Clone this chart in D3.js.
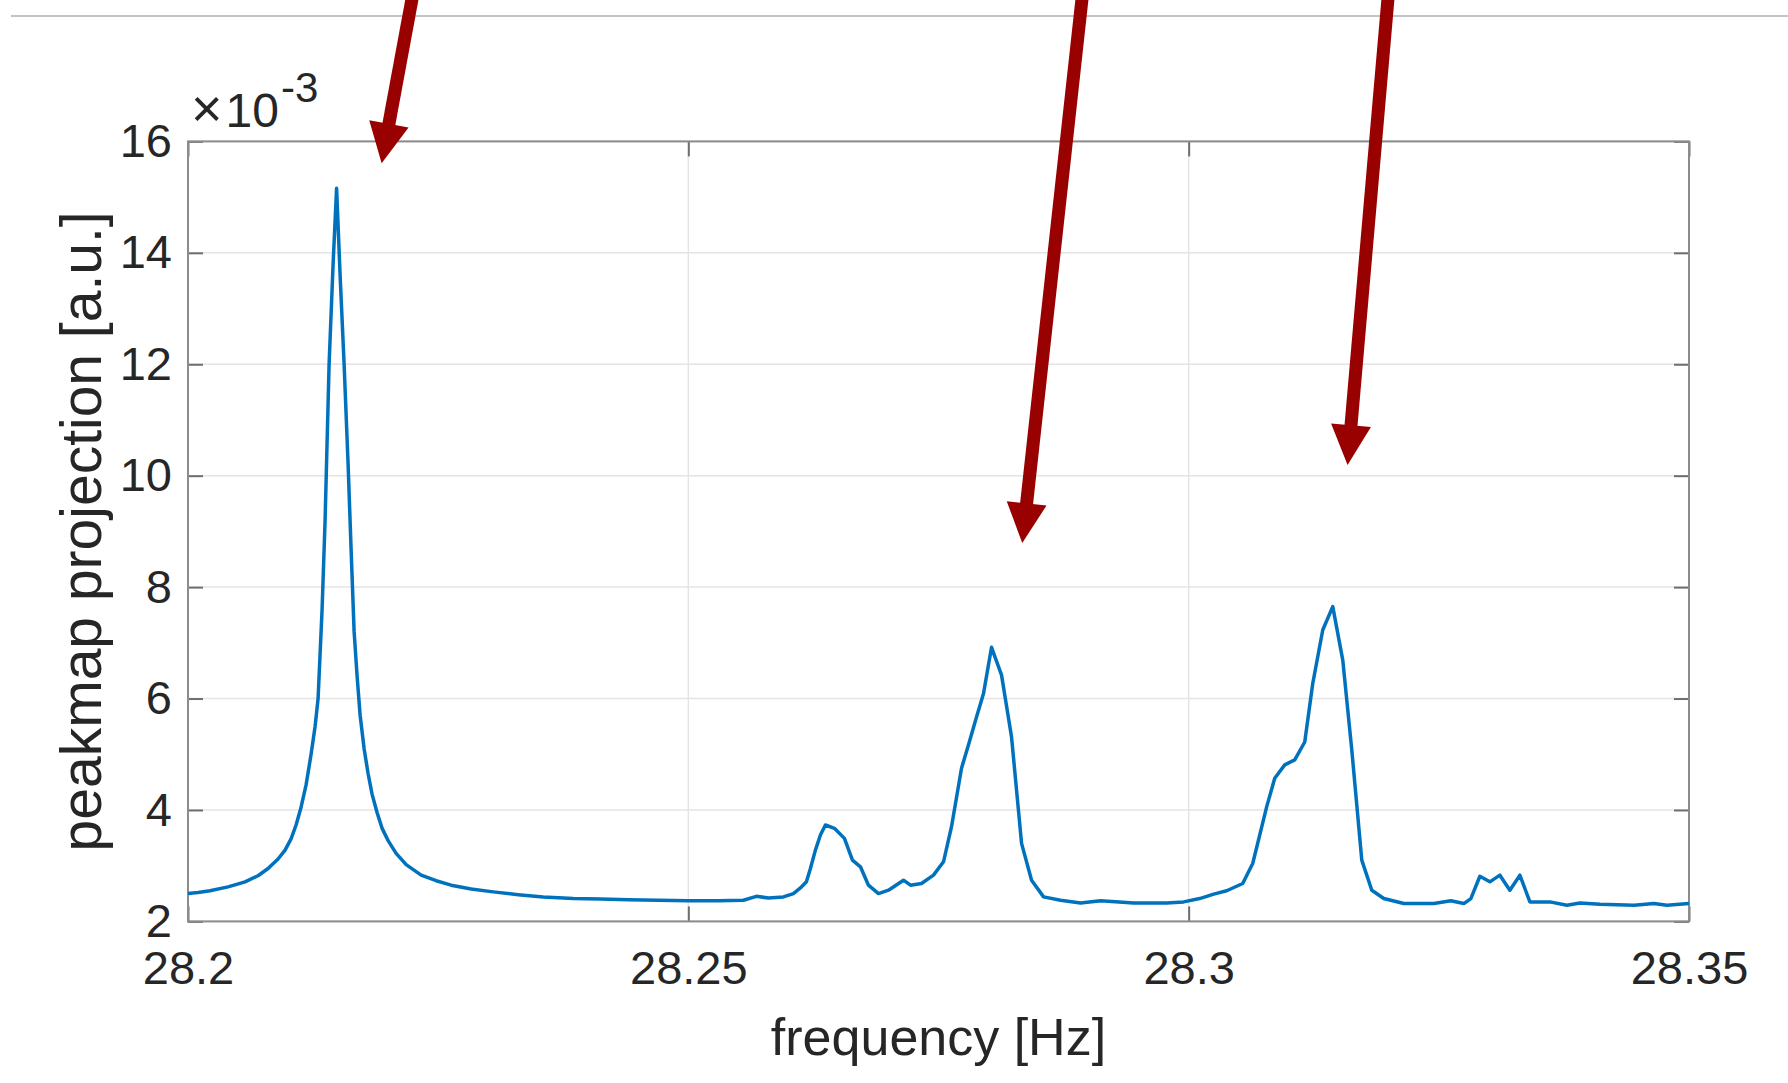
<!DOCTYPE html>
<html>
<head>
<meta charset="utf-8">
<script src="https://cdn.jsdelivr.net/npm/d3@7"></script>
<style>
  html, body { margin: 0; padding: 0; background: #fff; }
  svg { display: block; font-family: "Liberation Sans", Arial, Helvetica, sans-serif; }
</style>
</head>
<body>
<div id="chart"></div>
<script>
// spectrum, power in units of 1e-3
var freq = [
  28.2000, 28.2010, 28.2022, 28.2040, 28.2057, 28.2070, 28.2080, 28.2090, 28.2097, 28.2103,
  28.2108, 28.2113, 28.2118, 28.2123, 28.2127, 28.2130, 28.2134, 28.2137, 28.2141, 28.2145,
  28.21485, 28.2152, 28.2156, 28.2160, 28.2163, 28.2166, 28.2169, 28.2172, 28.2176, 28.2180,
  28.2184, 28.2189, 28.2194, 28.2200, 28.2208, 28.2218, 28.2233, 28.2248, 28.2263, 28.2283,
  28.2305, 28.2330, 28.2355, 28.2385, 28.2412, 28.2440, 28.2470, 28.2500, 28.2530, 28.2555,
  28.2568, 28.2580, 28.2595, 28.2605, 28.2612, 28.2618, 28.2622, 28.2627, 28.2632, 28.2637,
  28.2646, 28.2656, 28.2664, 28.2672, 28.2680, 28.2690, 28.2700, 28.2715, 28.2722, 28.2733,
  28.2745, 28.2755, 28.2763, 28.2773, 28.2780, 28.2788, 28.2795, 28.2803, 28.2813, 28.2823,
  28.2833, 28.2843, 28.2855, 28.2872, 28.2892, 28.2912, 28.2945, 28.2978, 28.2995, 28.3011,
  28.3025, 28.3038, 28.3054, 28.3064, 28.3078, 28.3086, 28.3096, 28.3106, 28.3116, 28.3124,
  28.3134, 28.3144, 28.3154, 28.3163, 28.3173, 28.3183, 28.3195, 28.3215, 28.3245, 28.3262,
  28.3275, 28.3282, 28.3291, 28.3301, 28.3311, 28.3321, 28.3331, 28.3341, 28.3361, 28.3378,
  28.3391, 28.3411, 28.3445, 28.3465, 28.3478, 28.3500
];
var power = [
  2.50, 2.52, 2.55, 2.62, 2.71, 2.82, 2.95, 3.12, 3.28, 3.48,
  3.73, 4.05, 4.45, 5.00, 5.50, 6.00, 7.60, 9.20, 12.0, 13.8,
  15.16, 13.6, 12.0, 10.2, 8.67, 7.20, 6.40, 5.70, 5.10, 4.65,
  4.28, 3.95, 3.67, 3.45, 3.22, 3.02, 2.83, 2.73, 2.65, 2.58,
  2.53, 2.48, 2.44, 2.41, 2.40, 2.39, 2.38, 2.37, 2.37, 2.38,
  2.45, 2.42, 2.44, 2.50, 2.60, 2.71, 2.95, 3.28, 3.55, 3.73,
  3.67, 3.49, 3.10, 2.98, 2.65, 2.50, 2.56, 2.74, 2.65, 2.68,
  2.83, 3.07, 3.70, 4.75, 5.17, 5.67, 6.09, 6.92, 6.42, 5.31,
  3.40, 2.74, 2.44, 2.38, 2.33, 2.37, 2.33, 2.33, 2.35, 2.41,
  2.49, 2.55, 2.68, 3.04, 4.06, 4.57, 4.81, 4.90, 5.22, 6.27,
  7.23, 7.65, 6.69, 5.08, 3.10, 2.56, 2.41, 2.32, 2.32, 2.37,
  2.32, 2.41, 2.81, 2.71, 2.83, 2.56, 2.83, 2.35, 2.35, 2.29,
  2.33, 2.31, 2.29, 2.32, 2.29, 2.32
];

var xTicks = [28.2, 28.25, 28.3, 28.35];
var xTickLabels = ["28.2", "28.25", "28.3", "28.35"];
var yTicks = [2, 4, 6, 8, 10, 12, 14, 16];
var yTickLabels = ["2", "4", "6", "8", "10", "12", "14", "16"];

// arrow annotations: top end and tip, in data units
var arrowTop = [[28.22274, 18.9], [28.28955, 18.9], [28.32008, 18.9]];
var arrowTip = [[28.21935, 15.61], [28.28337, 8.79], [28.31588, 10.19]];

var width = 1788, height = 1083;
var plotLeft = 188, plotRight = 1689, plotTop = 141.4, plotBottom = 921.4;

var svg = d3.select('#chart').append('svg')
  .attr('width', width)
  .attr('height', height);

var x = d3.scaleLinear().domain([28.2, 28.35]).range([plotLeft, plotRight]);
var y = d3.scaleLinear().domain([2, 16]).range([plotBottom, plotTop]);

// thin rule across the top of the figure
svg.append('line')
  .attr('x1', 11).attr('x2', width)
  .attr('y1', 16).attr('y2', 16)
  .attr('stroke', '#c4c4c4')
  .attr('stroke-width', 2);

// grid
svg.append('g').selectAll('line').data(xTicks).enter().append('line')
  .attr('x1', function(d){ return x(d); })
  .attr('x2', function(d){ return x(d); })
  .attr('y1', plotTop).attr('y2', plotBottom)
  .attr('stroke', '#e4e4e4')
  .attr('stroke-width', 1.5);

svg.append('g').selectAll('line').data(yTicks).enter().append('line')
  .attr('x1', plotLeft).attr('x2', plotRight)
  .attr('y1', function(d){ return y(d); })
  .attr('y2', function(d){ return y(d); })
  .attr('stroke', '#e4e4e4')
  .attr('stroke-width', 1.5);

// axes, ticks pointing inward
var fmtX = function(d){ return xTickLabels[xTicks.indexOf(d)]; };
var fmtY = function(d){ return yTickLabels[yTicks.indexOf(d)]; };

var styleAxis = function(g){
  g.select('.domain').remove();
  g.selectAll('.tick line').attr('stroke', '#6e6e6e').attr('stroke-width', 2);
  g.selectAll('.tick text')
    .attr('fill', '#262626')
    .style('font-size', '47px')
    .style('font-family', '"Liberation Sans", Arial, Helvetica, sans-serif');
};

svg.append('g')
  .attr('transform', 'translate(0,' + plotBottom + ')')
  .call(d3.axisBottom(x).tickValues(xTicks).tickFormat(fmtX).tickSizeInner(-15).tickSizeOuter(0).tickPadding(29))
  .call(styleAxis);

svg.append('g')
  .attr('transform', 'translate(0,' + plotTop + ')')
  .call(d3.axisTop(x).tickValues(xTicks).tickFormat('').tickSizeInner(-15).tickSizeOuter(0))
  .call(styleAxis);

svg.append('g')
  .attr('transform', 'translate(' + plotLeft + ',0)')
  .call(d3.axisLeft(y).tickValues(yTicks).tickFormat(fmtY).tickSizeInner(-15).tickSizeOuter(0).tickPadding(16))
  .call(styleAxis);

svg.append('g')
  .attr('transform', 'translate(' + plotRight + ',0)')
  .call(d3.axisRight(y).tickValues(yTicks).tickFormat('').tickSizeInner(-15).tickSizeOuter(0))
  .call(styleAxis);

// box
svg.append('rect')
  .attr('x', plotLeft).attr('y', plotTop)
  .attr('width', plotRight - plotLeft).attr('height', plotBottom - plotTop)
  .attr('fill', 'none')
  .attr('stroke', '#8c8c8c')
  .attr('stroke-width', 2);

// the spectrum
var pts = freq.map(function(f, i){ return [f, power[i]]; });
var line = d3.line()
  .x(function(d){ return x(d[0]); })
  .y(function(d){ return y(d[1]); });

svg.append('path')
  .datum(pts)
  .attr('d', line)
  .attr('fill', 'none')
  .attr('stroke', '#0072bd')
  .attr('stroke-width', 3.5)
  .attr('stroke-linejoin', 'round');

// exponent label
var expo = svg.append('text')
  .attr('x', 191).attr('y', 127)
  .attr('fill', '#262626')
  .style('font-size', '48px');
expo.append('tspan').style('font-size', '54px').text('\u00d7');
expo.append('tspan').attr('dx', 3).text('10');
expo.append('tspan').attr('dx', 2).attr('dy', -25).style('font-size', '42px').text('-3');

// axis labels
svg.append('text')
  .attr('x', (plotLeft + plotRight) / 2).attr('y', 1055)
  .attr('text-anchor', 'middle')
  .attr('fill', '#262626')
  .style('font-size', '52px')
  .text('frequency [Hz]');

svg.append('text')
  .attr('transform', 'translate(101,' + (plotTop + plotBottom) / 2 + ') rotate(-90)')
  .attr('text-anchor', 'middle')
  .attr('fill', '#262626')
  .style('font-size', '57px')
  .text('peakmap projection [a.u.]');

// red arrows
var arrowColor = '#990000';
var headLen = 40, headHalf = 20;
var arrows = svg.append('g');
for (var i = 0; i < arrowTip.length; i++) {
  var sx = x(arrowTop[i][0]), sy = y(arrowTop[i][1]);
  var tx = x(arrowTip[i][0]), ty = y(arrowTip[i][1]);
  var len = Math.sqrt((tx - sx) * (tx - sx) + (ty - sy) * (ty - sy));
  var ux = (tx - sx) / len, uy = (ty - sy) / len;
  var bx = tx - headLen * ux, by = ty - headLen * uy;
  arrows.append('line')
    .attr('x1', sx).attr('y1', sy)
    .attr('x2', bx + 4 * ux).attr('y2', by + 4 * uy)
    .attr('stroke', arrowColor)
    .attr('stroke-width', 13);
  arrows.append('path')
    .attr('d', 'M' + tx + ',' + ty +
      'L' + (bx - headHalf * uy) + ',' + (by + headHalf * ux) +
      'L' + (bx + headHalf * uy) + ',' + (by - headHalf * ux) + 'Z')
    .attr('fill', arrowColor);
}
</script>
</body>
</html>
